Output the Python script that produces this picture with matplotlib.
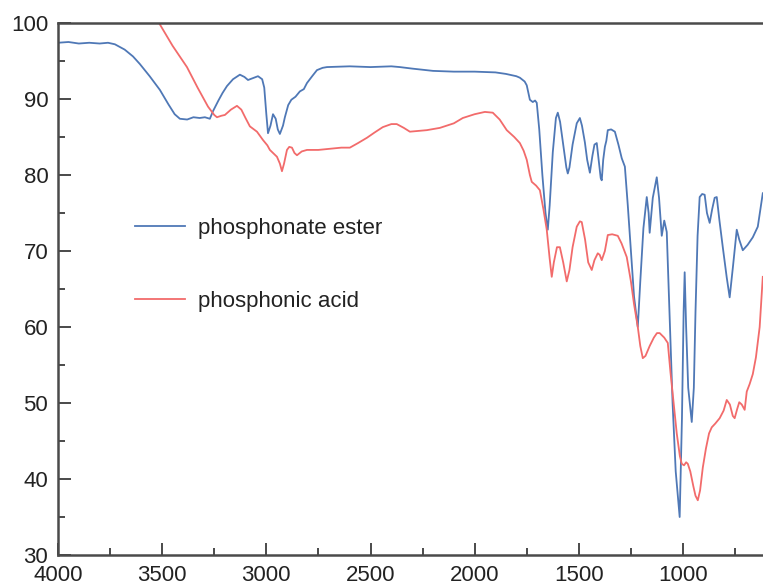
import matplotlib
matplotlib.use("Agg")
import matplotlib.pyplot as plt
from matplotlib.ticker import MultipleLocator

plt.rcParams['font.family'] = ['Liberation Sans', 'DejaVu Sans']

# phosphonate ester (wavenumber cm-1, transmittance %)
ester_wn = [4000, 3950, 3900, 3850, 3800, 3760, 3727, 3680, 3640, 3607, 3560, 3511, 3470, 3440,
            3415, 3380, 3350, 3320, 3295, 3271, 3256, 3230, 3210, 3189, 3160, 3127, 3105, 3088,
            3060, 3040, 3020, 3010, 3000, 2992, 2980, 2968, 2955, 2945, 2935, 2920, 2911, 2895,
            2880, 2860, 2839, 2820, 2805, 2780, 2757, 2730, 2709, 2600, 2500, 2400, 2359, 2300,
            2200, 2100, 2000, 1900, 1850, 1800, 1783, 1760, 1750, 1740, 1735, 1721, 1710, 1702,
            1690, 1675, 1660, 1649, 1640, 1625, 1610, 1601, 1590, 1575, 1560, 1553, 1545, 1530,
            1510, 1495, 1485, 1471, 1460, 1447, 1435, 1425, 1414, 1405, 1395, 1390, 1383, 1375,
            1368, 1361, 1345, 1327, 1310, 1294, 1279, 1265, 1250, 1235, 1217, 1205, 1190, 1174,
            1165, 1160, 1145, 1126, 1115, 1102, 1090, 1078, 1065, 1050, 1035, 1016, 1005, 997,
            992, 985, 975, 958, 948, 940, 930, 920, 908, 896, 885, 872, 860, 848, 838, 825, 809,
            790, 776, 760, 742, 730, 713, 690, 665, 641, 617]
ester_t = [97.4, 97.5, 97.3, 97.4, 97.3, 97.4, 97.2, 96.5, 95.6, 94.6, 93.0, 91.2, 89.3, 88.0,
           87.4, 87.3, 87.6, 87.5, 87.6, 87.4, 88.4, 89.8, 90.8, 91.7, 92.6, 93.2, 92.9, 92.5,
           92.8, 93.0, 92.6, 91.5, 88.0, 85.5, 86.5, 88.0, 87.4, 86.0, 85.4, 86.5, 87.6, 89.2,
           89.9, 90.3, 91.0, 91.3, 92.1, 93.0, 93.8, 94.1, 94.2, 94.3, 94.2, 94.3, 94.2, 94.0,
           93.7, 93.6, 93.6, 93.5, 93.3, 93.0, 92.8, 92.3, 91.8, 90.5, 89.9, 89.6, 89.8, 89.5,
           86.0, 80.0, 75.0, 72.8, 76.0, 83.0, 87.5, 88.2, 87.0, 84.0, 81.0, 80.2, 81.0, 84.0,
           86.8, 87.5, 86.5, 84.3, 82.0, 80.3, 82.5, 84.0, 84.2, 82.0, 79.6, 79.3, 82.0, 83.7,
           84.5, 85.9, 86.0, 85.7, 84.0, 82.2, 81.1, 76.0, 70.0, 64.0, 60.0, 66.0, 73.0, 77.1,
           75.0, 72.4, 77.0, 79.7, 77.0, 72.0, 74.0, 72.5, 62.0, 50.0, 41.0, 35.0, 48.0, 62.0,
           67.2, 60.0, 52.0, 47.5, 52.0, 62.0, 72.0, 77.1, 77.5, 77.4, 75.0, 73.7, 75.5, 77.0,
           77.1, 74.0, 70.5, 66.5, 63.9, 68.0, 72.8, 71.5, 70.1, 70.8, 71.8, 73.2, 77.6]

# phosphonic acid
acid_wn = [3600, 3515, 3450, 3381, 3330, 3280, 3250, 3237, 3215, 3199, 3170, 3141, 3120, 3100,
           3079, 3045, 3016, 2995, 2983, 2960, 2949, 2935, 2925, 2915, 2901, 2890, 2877, 2865,
           2853, 2830, 2805, 2750, 2680, 2640, 2599, 2560, 2517, 2480, 2441, 2400, 2374, 2340,
           2311, 2270, 2230, 2167, 2100, 2057, 2000, 1951, 1913, 1880, 1846, 1810, 1783, 1765,
           1750, 1735, 1726, 1705, 1687, 1670, 1654, 1640, 1630, 1620, 1605, 1591, 1575, 1558,
           1545, 1530, 1510, 1495, 1486, 1470, 1455, 1438, 1425, 1409, 1400, 1390, 1375, 1361,
           1340, 1313, 1295, 1270, 1250, 1235, 1217, 1205, 1193, 1180, 1160, 1140, 1125, 1112,
           1090, 1073, 1060, 1045, 1030, 1015, 1006, 995, 985, 977, 965, 950, 940, 929, 918,
           905, 890, 875, 862, 845, 824, 805, 790, 775, 761, 752, 740, 730, 718, 704, 694, 680,
           665, 650, 632, 617]
acid_t = [103.7, 100.0, 97.0, 94.2, 91.5, 89.0, 87.9, 87.6, 87.8, 87.9, 88.6, 89.1, 88.6, 87.5,
          86.4, 85.7, 84.6, 83.9, 83.3, 82.7, 82.4, 81.5, 80.5, 81.5, 83.3, 83.7, 83.6, 82.9,
          82.6, 83.1, 83.3, 83.3, 83.5, 83.6, 83.6, 84.2, 84.9, 85.6, 86.3, 86.7, 86.7, 86.2,
          85.7, 85.8, 85.9, 86.2, 86.8, 87.5, 88.0, 88.3, 88.2, 87.3, 85.9, 85.0, 84.2, 83.2,
          82.0, 80.0, 79.1, 78.6, 78.0, 75.5, 72.8, 69.0, 66.6, 68.5, 70.5, 70.5, 68.5, 66.0,
          67.5, 70.5, 73.2, 73.9, 73.8, 71.5, 68.5, 67.5, 68.8, 69.7, 69.5, 68.8, 70.0, 72.1,
          72.2, 72.0, 71.0, 69.2, 66.0, 63.0, 60.0, 57.5, 55.9, 56.2, 57.5, 58.6, 59.2, 59.2,
          58.6, 57.9, 54.0, 50.0, 46.0, 43.0, 42.0, 41.8, 42.2, 42.0, 41.0, 39.0, 37.8, 37.2,
          38.5, 41.5, 44.0, 46.0, 46.8, 47.3, 48.0, 49.0, 50.4, 49.8, 48.3, 48.0, 49.2, 50.1,
          49.8, 49.1, 51.5, 52.5, 53.8, 56.0, 60.0, 66.6]

labels = ["phosphonate ester", "phosphonic acid"]
x_ticks = [4000, 3500, 3000, 2500, 2000, 1500, 1000]
y_ticks = [30, 40, 50, 60, 70, 80, 90, 100]

fig = plt.figure(figsize=(7.63, 5.85), dpi=100)
ax = fig.add_axes([58/763, 30/585, 705/763, 532/585])

ax.plot(ester_wn, ester_t, color='#4f78b6', lw=1.3, label=labels[0])
ax.plot(acid_wn, acid_t, color='#f26b6b', lw=1.3, label=labels[1])

ax.set_xlim(4000, 616)
ax.set_ylim(30, 100)
ax.set_xticks(x_ticks)
ax.set_yticks(y_ticks)
ax.xaxis.set_minor_locator(MultipleLocator(250))
ax.yaxis.set_minor_locator(MultipleLocator(5))

spc = '#4a4a4a'
for s in ['left', 'bottom', 'top']:
    ax.spines[s].set_color(spc)
    ax.spines[s].set_linewidth(1.8)
ax.spines['right'].set_visible(False)

ax.tick_params(which='both', direction='in', top=False, right=False, color=spc, width=1.4,
               labelsize=16, labelcolor='#222222')
ax.tick_params(which='major', length=9, pad=7)
ax.tick_params(which='minor', length=5)

leg = ax.legend(loc='center left', bbox_to_anchor=(0.109, 0.545), frameon=False,
                fontsize=16, handlelength=2.25, handletextpad=0.6, labelspacing=2.35,
                borderpad=0, borderaxespad=0)
for t in leg.get_texts():
    t.set_color('#222222')

fig.savefig('out.png', dpi=100)
